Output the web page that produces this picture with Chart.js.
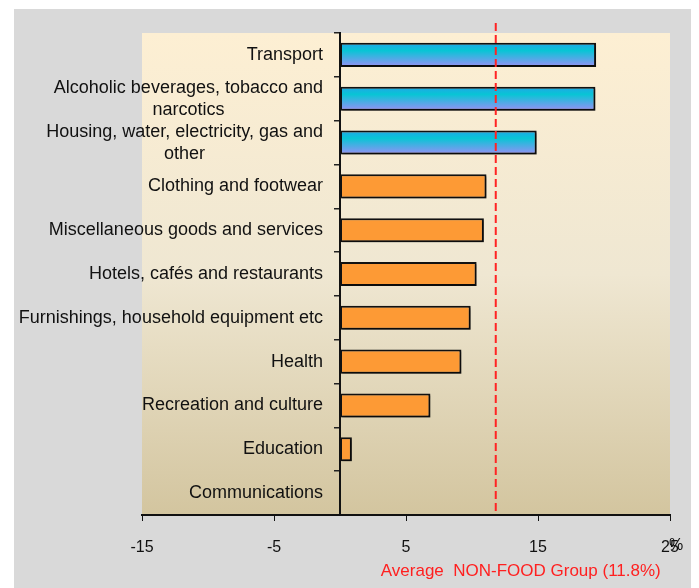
<!DOCTYPE html>
<html>
<head>
<meta charset="utf-8">
<script src="https://cdn.jsdelivr.net/npm/chart.js@4.4.1/dist/chart.umd.min.js"></script>
<style>
  html, body { margin: 0; padding: 0; background: #fff; }
  #wrap { position: relative; width: 699px; height: 588px; }
  #panel { position: absolute; left: 14px; top: 9px; width: 677px; height: 579px; background: #d9d9d9; }
  #chart { position: absolute; left: 0; top: 0; }
</style>
</head>
<body>
<div id="wrap"><div id="panel"></div><canvas id="chart" width="699" height="588"></canvas></div>
<script>
  "use strict";

  // price change by group, %
  const categories = [
    "Transport",
    ["Alcoholic beverages, tobacco and", "narcotics"],
    ["Housing, water, electricity, gas and", "other"],
    "Clothing and footwear",
    "Miscellaneous goods and services",
    "Hotels, cafés and restaurants",
    "Furnishings, household equipment etc",
    "Health",
    "Recreation and culture",
    "Education",
    "Communications",
  ];
  const values = [19.4, 19.35, 14.9, 11.1, 10.9, 10.35, 9.9, 9.2, 6.85, 0.9, 0];
  const AVG = 11.8;
  const avgLabel = "Average  NON-FOOD Group (11.8%)";
  const xMin = -15, xMax = 25, xStep = 10;

  const FONT = "'Liberation Sans', Arial, sans-serif";
  const ORANGE = "#fd9a35";
  const BAR_PCT = 0.55;

  function barFill(c) {
    const v = values[c.dataIndex];
    if (v <= AVG) return ORANGE;
    const chart = c.chart;
    const y = chart.scales.y;
    if (!chart.chartArea || !y) return "#0ac4d6";
    const center = y.getPixelForValue(c.dataIndex);
    const half = (y.height / categories.length) * BAR_PCT / 2;
    const g = chart.ctx.createLinearGradient(0, center - half, 0, center + half);
    g.addColorStop(0, "#22a4e8");
    g.addColorStop(0.32, "#08c5d5");
    g.addColorStop(1, "#9a8ff6");
    return g;
  }

  const decor = {
    id: "decor",
    beforeDraw(chart) {
      const { ctx, chartArea: a } = chart;
      const g = ctx.createLinearGradient(0, a.top, 0, a.bottom);
      g.addColorStop(0, "#fdefd3");
      g.addColorStop(0.5, "#efe7d2");
      g.addColorStop(1, "#d3c59f");
      ctx.save();
      ctx.fillStyle = g;
      ctx.fillRect(a.left, a.top, a.right - a.left, a.bottom - a.top);
      ctx.restore();
    },
    beforeDatasetsDraw(chart) {
      const c = chart.ctx;
      c.save();
      c.shadowColor = "rgba(0,0,0,0.35)";
      c.shadowOffsetX = 2;
      c.shadowOffsetY = 2;
      c.shadowBlur = 2;
    },
    afterDatasetsDraw(chart) {
      const { ctx, chartArea: a, scales: { x } } = chart;
      ctx.restore();
      const px = x.getPixelForValue(AVG);
      ctx.save();
      ctx.strokeStyle = "#ff2424";
      ctx.lineWidth = 2;
      ctx.setLineDash([8, 4]);
      ctx.beginPath();
      ctx.moveTo(px, a.top - 10);
      ctx.lineTo(px, a.bottom);
      ctx.stroke();
      ctx.restore();
    },
    afterDraw(chart) {
      const { ctx, chartArea: a, scales: { x, y } } = chart;
      const right = x.getPixelForValue(0) - 17;
      ctx.save();
      ctx.font = "18px " + FONT;
      ctx.fillStyle = "#111";
      ctx.textAlign = "center";
      ctx.textBaseline = "middle";
      categories.forEach((lab, i) => {
        const lines = Array.isArray(lab) ? lab : [lab];
        const w = Math.max(...lines.map((l) => ctx.measureText(l).width));
        const cy = y.getPixelForValue(i);
        lines.forEach((l, j) => ctx.fillText(l, right - w / 2, cy + (j - (lines.length - 1) / 2) * 22));
      });
      // unit sign sitting on top of the last tick label
      ctx.font = "16px " + FONT;
      ctx.textAlign = "left";
      ctx.fillText("%", x.getPixelForValue(xMax) - 1, a.bottom + 31);
      // average line caption
      ctx.font = "17px " + FONT;
      ctx.fillStyle = "#ff2020";
      ctx.textAlign = "center";
      ctx.fillText(avgLabel, x.getPixelForValue(AVG) + 25, a.bottom + 56);
      ctx.restore();
    },
  };

  new Chart(document.getElementById("chart"), {
    type: "bar",
    data: {
      labels: categories,
      datasets: [{
        data: values,
        backgroundColor: barFill,
        borderColor: "#111",
        borderWidth: 2,
        borderSkipped: false,
        barPercentage: BAR_PCT,
        categoryPercentage: 1,
      }],
    },
    options: {
      indexAxis: "y",
      responsive: false,
      animation: false,
      layout: { padding: { left: 142, right: 29, top: 33, bottom: 0 } },
      plugins: { legend: { display: false }, tooltip: { enabled: false } },
      scales: {
        x: {
          type: "linear", min: xMin, max: xMax, position: "bottom",
          afterFit(scale) { scale.height = 73; },
          ticks: { stepSize: xStep, color: "#111", font: { size: 16, family: FONT }, padding: 17, maxRotation: 0 },
          grid: { drawOnChartArea: false, tickLength: 6, color: "#111", lineWidth: 1 },
          border: { color: "#111", width: 2 },
        },
        y: {
          position: { x: 0 },
          offset: true,
          ticks: { display: false },
          grid: { offset: true, drawOnChartArea: false, tickLength: 5, color: "#222", lineWidth: 1.5 },
          border: { color: "#111", width: 2 },
        },
      },
    },
    plugins: [decor],
  });
</script>
</body>
</html>
